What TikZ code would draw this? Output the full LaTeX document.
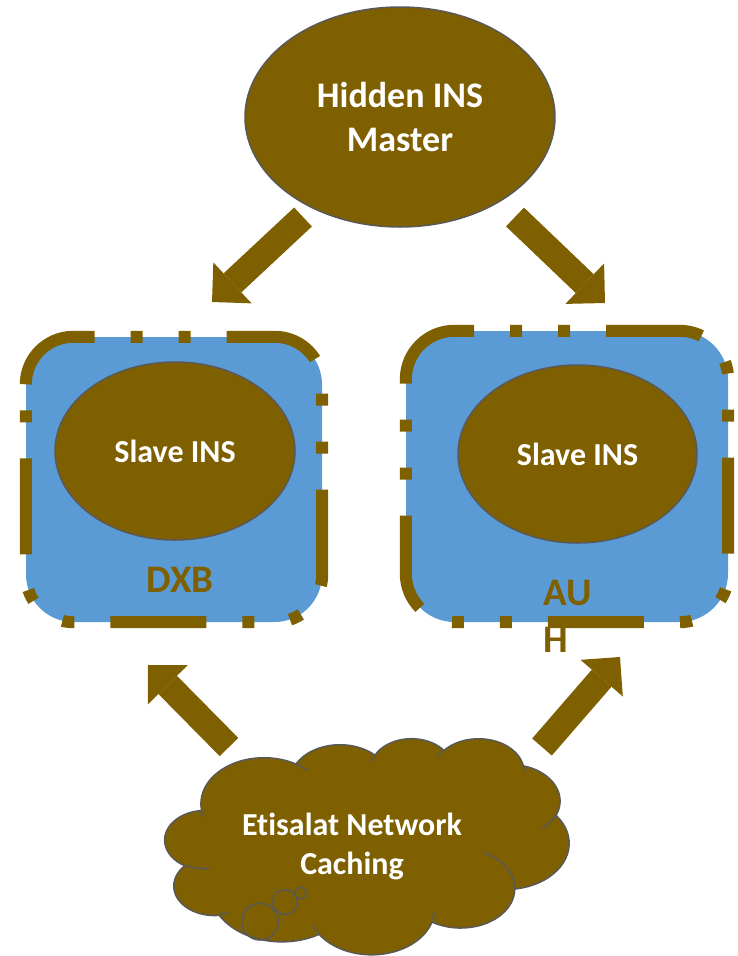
\documentclass[tikz,border=0pt]{standalone}
\usepackage{fontspec}
\setmainfont{Carlito}[Ligatures=NoCommon]
\usetikzlibrary{shapes.geometric,arrows.meta}
\definecolor{insbrown}{HTML}{7F6000}
\definecolor{siteblue}{HTML}{5B9BD5}
\definecolor{edgegray}{HTML}{595959}

\tikzset{
  insnode/.style={ellipse, fill=insbrown, draw=edgegray, line width=1.5pt, inner sep=0pt,
    text=white, align=center, font=\bfseries\fontsize{32}{40}\selectfont},
  sitebox/.style={rectangle, fill=siteblue, inner sep=0pt},
  siteedge/.style={draw=insbrown, line width=12pt,
    dash pattern=on 96pt off 36pt on 12pt off 36pt on 12pt off 36pt},
  sitelabel/.style={inner sep=0pt, text=insbrown, font=\bfseries\fontsize{39}{47}\selectfont},
  bigarrow/.style={draw=insbrown, line width=26pt,
    -{Triangle[length=28pt,width=56pt,line width=0pt]}},
  cloudline/.style={draw=edgegray, line width=1.5pt}
}

\begin{document}
\begin{tikzpicture}[x=1pt,y=-1pt]
    \useasboundingbox (0,0) rectangle (738,956);

    % Site boxes (DXB, AUH)
    \node[sitebox, rounded corners=47.5pt, minimum width=296pt, minimum height=285pt] (dxb) at (174,479.5) {};
    \node[sitebox, rounded corners=48.5pt, minimum width=322pt, minimum height=291pt] (auh) at (567,476.5) {};
    \draw[siteedge, rounded corners=47.5pt] ([yshift=-47.5pt]dxb.north west) -- (dxb.north west)
        -- (dxb.north east) -- (dxb.south east) -- (dxb.south west) -- ([yshift=-47.5pt]dxb.north west);
    \draw[siteedge, rounded corners=48.5pt] ([yshift=-48.5pt]auh.north west) -- (auh.north west)
        -- (auh.north east) -- (auh.south east) -- (auh.south west) -- ([yshift=-48.5pt]auh.north west);

    % INS servers
    \node[insnode, minimum width=310pt, minimum height=220pt, font=\bfseries\fontsize{36}{44}\selectfont]
        (master) at (400,117) {Hidden INS\\Master};
    \node[insnode, minimum width=240pt, minimum height=178pt] (slavedxb) at (175,451) {Slave INS};
    \node[insnode, minimum width=239pt, minimum height=178pt] (slaveauh) at (577.5,454) {Slave INS};

    % Site labels
    \node[sitelabel] (dxblabel) at (180,580) {DXB};
    \node[sitelabel, anchor=north west, align=left] (auhlabel) at (543,580) {AU\\H};

    % Cloud (network caching)
    \begin{scope}[shift={(165,738)}, x=0.93519pt, y=-0.5pt]
        \filldraw[cloudline, fill=insbrown] (39.00,143.70)
            arc[start angle=-187.75, delta angle=128.10, x radius=67.53, y radius=91.90]
            arc[start angle=-152.02, delta angle=106.58, x radius=53.33, y radius=72.67]
            arc[start angle=-153.50, delta angle=116.17, x radius=43.65, y radius=59.45]
            arc[start angle=-139.70, delta angle=129.49, x radius=48.57, y radius=65.95]
            arc[start angle=-74.77, delta angle=97.98, x radius=53.33, y radius=72.73]
            arc[start angle=-37.53, delta angle=119.39, x radius=67.75, y radius=92.20]
            arc[start angle=0.46, delta angle=121.51, x radius=57.85, y radius=78.67]
            arc[start angle=16.84, delta angle=129.39, x radius=67.52, y radius=92.15]
            arc[start angle=58.98, delta angle=91.22, x radius=77.20, y radius=105.43]
            arc[start angle=83.31, delta angle=139.79, x radius=43.60, y radius=59.18]
            arc[start angle=120.35, delta angle=143.76, x radius=43.45, y radius=59.45]
            -- cycle;
        % creases
        \draw[cloudline] (46.93,261.77) arc[start angle=85.55, delta angle=34.80, x radius=43.45, y radius=59.45]
            (69.28,348.99) arc[start angle=68.24, delta angle=15.07, x radius=43.60, y radius=59.18]
            (164.78,390.90) arc[start angle=146.23, delta angle=12.24, x radius=67.52, y radius=92.15]
            (288.27,347.51) arc[start angle=4.74, delta angle=12.10, x radius=67.52, y radius=92.15]
            (341.29,229.54) arc[start angle=-64.03, delta angle=64.49, x radius=57.85, y radius=78.67]
            (417.98,153.54) arc[start angle=23.21, delta angle=26.44, x radius=53.33, y radius=72.73]
            (383.24,54.26) arc[start angle=-10.21, delta angle=11.03, x radius=48.57, y radius=65.95]
            (290.78,39.52) arc[start angle=-156.28, delta angle=16.58, x radius=48.57, y radius=65.95]
            (221.41,47.20) arc[start angle=-167.73, delta angle=14.23, x radius=43.65, y radius=59.45]
            (140.00,51.92) arc[start angle=-59.64, delta angle=13.91, x radius=67.53, y radius=91.90]
            (41.27,157.89) arc[start angle=163.19, delta angle=9.06, x radius=67.53, y radius=91.90];
    \end{scope}
    \draw[cloudline] (260,921.7) circle[radius=18.3] (285,902) circle[radius=12.3] (300.7,893) circle[radius=5.7];
    \node[inner sep=0pt, text=white, align=center, font=\bfseries\fontsize{32}{39}\selectfont]
        (cloud) at (352,846) {Etisalat Network\\Caching};

    % Arrow ends
    \coordinate (masterL) at (303,217);
    \coordinate (dxbIn) at (212,302);
    \coordinate (masterR) at (515,217);
    \coordinate (auhIn) at (605,303);
    \coordinate (cloudL) at (229,747);
    \coordinate (dxbOut) at (148,665);
    \coordinate (cloudR) at (542,747);
    \coordinate (auhOut) at (620,657);

    % Arrows
    \draw[bigarrow] (masterL) -- (dxbIn);
    \draw[bigarrow] (masterR) -- (auhIn);
    \draw[bigarrow] (cloudL) -- (dxbOut);
    \draw[bigarrow] (cloudR) -- (auhOut);
\end{tikzpicture}
\end{document}
